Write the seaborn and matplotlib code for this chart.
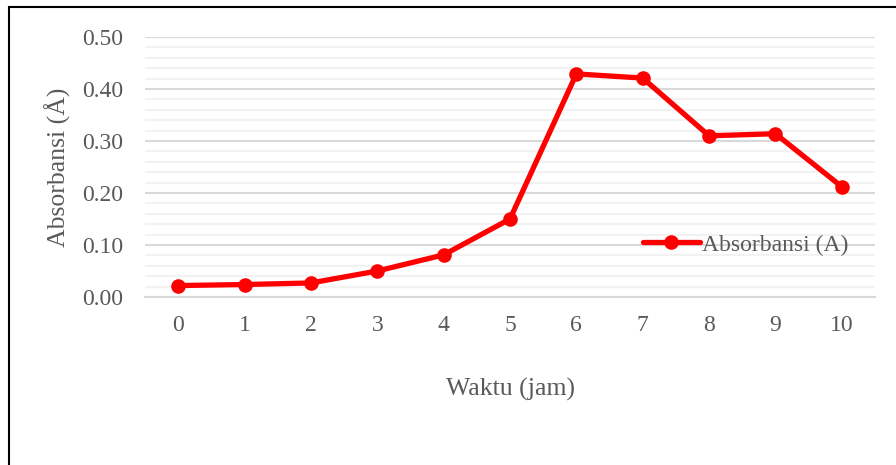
import pandas as pd
import seaborn as sns
import matplotlib.pyplot as plt
from matplotlib.patches import Rectangle
from matplotlib.ticker import MultipleLocator

# data
waktu = [0, 1, 2, 3, 4, 5, 6, 7, 8, 9, 10]
absorbansi = [0.022, 0.024, 0.027, 0.050, 0.081, 0.150, 0.429, 0.421, 0.310, 0.314, 0.212]
series_name = 'Absorbansi (A)'

frame = pd.DataFrame({'waktu': waktu, 'absorbansi': absorbansi})

sns.set_style('white')
plt.rcParams['font.family'] = ['Liberation Serif', 'DejaVu Serif']
grey = '#595959'

fig = plt.figure(figsize=(8.96, 4.65), dpi=100)
ax = fig.add_axes([145 / 896, 1 - 297 / 465, 730 / 896, 260 / 465])

sns.lineplot(x='waktu', y='absorbansi', data=frame, ax=ax, color='#ff0000',
             linewidth=3.8, marker='o', markersize=10.5, markeredgewidth=0,
             label=series_name, zorder=5)

ax.set_xlim(-0.5, 10.5)
ax.set_ylim(0, 0.5)
ax.set_xticks(waktu)
ax.set_xticklabels([str(w) for w in waktu])
ax.yaxis.set_major_locator(MultipleLocator(0.1))
ax.yaxis.set_minor_locator(MultipleLocator(0.02))
ax.set_yticklabels(['%.2f' % v for v in ax.get_yticks()])
ax.grid(True, which='major', axis='y', color='#d9d9d9', linewidth=1.5)
ax.grid(True, which='minor', axis='y', color='#f2f2f2', linewidth=1.5)
ax.grid(False, axis='x')
for s in ['top', 'right', 'left']:
    ax.spines[s].set_visible(False)
ax.spines['bottom'].set_color('#d9d9d9')
ax.spines['bottom'].set_linewidth(1.5)
ax.tick_params(axis='both', which='both', length=0, labelsize=17, colors=grey)
ax.tick_params(axis='x', pad=13)
ax.tick_params(axis='y', pad=16)

ax.set_xlabel('Waktu (jam)', fontsize=18.5, color=grey, labelpad=30)
ax.set_ylabel('Absorbansi (Å)', fontsize=18.5, color=grey, labelpad=8)

leg = ax.legend(loc='center left', bbox_to_anchor=(0.682, 0.2), frameon=False,
                fontsize=17, handlelength=2.4, handletextpad=0.1,
                borderpad=0, borderaxespad=0)
for t in leg.get_texts():
    t.set_color(grey)

# outer frame (cropped on right and bottom in the reference)
fig.patches.append(Rectangle((8.5 / 896, -0.05), 1.2, 1.05 - 7.5 / 465,
                             transform=fig.transFigure, fill=False,
                             edgecolor='black', linewidth=1.5, clip_on=False))

plt.savefig('out.png', dpi=100)
